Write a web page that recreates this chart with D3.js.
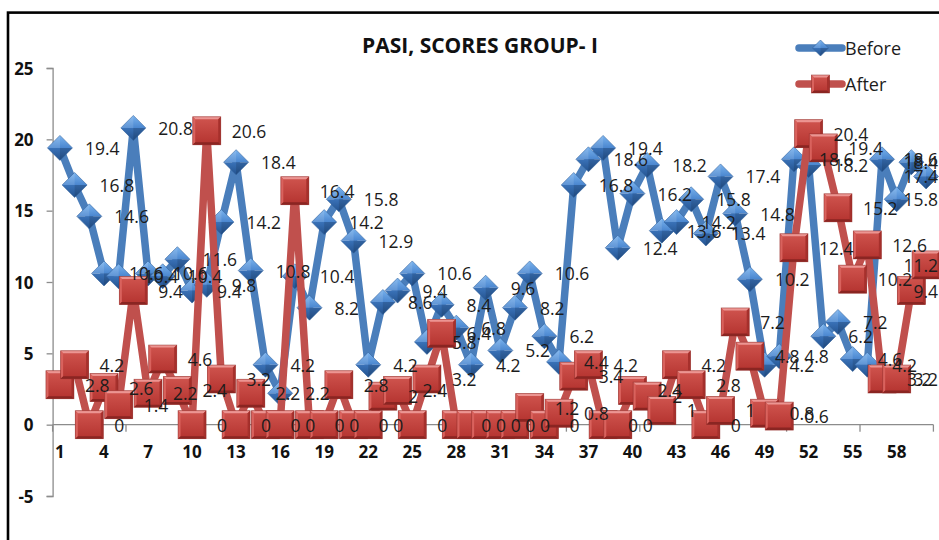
<!DOCTYPE html>
<html>
<head>
<meta charset="utf-8">
<script src="https://cdn.jsdelivr.net/npm/d3@7/dist/d3.min.js"></script>
<style>
  html, body { margin: 0; padding: 0; background: #fff; }
  svg { display: block; }
</style>
</head>
<body>
<svg id="chart" width="939" height="540"></svg>
<script>
// PASI scores per patient, before and after treatment (Group I)
const categories = [1,2,3,4,5,6,7,8,9,10,11,12,13,14,15,16,17,18,19,20,
  21,22,23,24,25,26,27,28,29,30,31,32,33,34,35,36,37,38,39,40,
  41,42,43,44,45,46,47,48,49,50,51,52,53,54,55,56,57,58,59,60];

const before = [19.4,16.8,14.6,10.6,10.4,20.8,10.6,10.4,11.6,9.4,
  9.8,14.2,18.4,10.8,4.2,2.2,10.4,8.2,14.2,15.8,
  12.9,4.2,8.6,9.4,10.6,5.8,8.4,6.8,4.2,9.6,
  5.2,8.2,10.6,6.2,4.4,16.8,18.6,19.4,12.4,16.2,
  18.2,13.6,14.2,15.8,13.4,17.4,14.8,10.2,4.2,4.8,
  18.6,18.2,6.2,7.2,4.6,4.2,18.6,15.8,18.4,17.4];

const after = [2.8,4.2,0,2.6,1.4,9.4,2.2,4.6,2.4,0,
  20.6,3.2,0,2.2,0,0,16.4,0,0,2.8,
  0,0,2,2.4,0,3.2,6.4,0,0,0,
  0,0,1.2,0,0.8,3.4,4.2,0,0,2.4,
  2,1,4.2,2.8,0,1,7.2,4.8,0.8,0.6,
  12.4,20.4,19.4,15.2,10.2,12.6,3.2,3.2,9.4,11.2];

const xTickLabels = [1,4,7,10,13,16,19,22,25,28,31,34,37,40,43,46,49,52,55,58];
const yTicks = [-5,0,5,10,15,20,25];
const seriesNames = ["Before", "After"];

const W = 939, H = 540;
const svg = d3.select("#chart");
const FONT = "'Open Sans', 'Noto Sans', sans-serif";

const x = d3.scalePoint().domain(categories).range([52.6, 933.4]).padding(0.5);
const y = d3.scaleLinear().domain([-5, 25]).range([496, 68]);
const step = x.step();

// ---------- gradients for the bevelled markers ----------
const defs = svg.append("defs");
function lin(id, stops, x2 = 0, y2 = 1) {
  const g = defs.append("linearGradient").attr("id", id)
    .attr("x1", 0).attr("y1", 0).attr("x2", x2).attr("y2", y2);
  stops.forEach(([o, c]) => g.append("stop").attr("offset", o).attr("stop-color", c));
}
lin("redFace", [[0, "#d0554f"], [1, "#b4332f"]]);
lin("blueTop", [[0, "#7ab3ee"], [1, "#4a86cf"]]);
lin("blueBot", [[0, "#3a72b8"], [1, "#24538f"]]);

// ---------- chart frame ----------
svg.append("rect").attr("x", 0).attr("y", 0).attr("width", W).attr("height", H).attr("fill", "#fff");
svg.append("rect")
  .attr("x", 8).attr("y", 12.6).attr("width", 1200).attr("height", 1200)
  .attr("fill", "none").attr("stroke", "#000").attr("stroke-width", 2.6);

// ---------- title ----------
svg.append("text")
  .attr("x", 480).attr("y", 53)
  .attr("text-anchor", "middle")
  .attr("font-family", FONT).attr("font-weight", 700).attr("font-size", 21)
  .attr("fill", "#111")
  .text("PASI, SCORES GROUP- I");

// ---------- axes ----------
const axisColor = "#8c8c8c";
const yAxis = svg.append("g").attr("transform", "translate(52.6,0)")
  .call(d3.axisLeft(y).tickValues(yTicks).tickSize(6).tickFormat(d => String(d)));
yAxis.select(".domain").attr("stroke", axisColor).attr("stroke-width", 1.3);
yAxis.selectAll(".tick line").attr("stroke", axisColor).attr("stroke-width", 1.3);
yAxis.selectAll(".tick text")
  .attr("x", -19).attr("dy", "0.36em")
  .attr("font-family", FONT).attr("font-weight", 700).attr("font-size", 17).attr("fill", "#111");

// category axis crossing at zero, ticks every fifth boundary
const boundaries = categories.filter((c, i) => i % 5 === 0).map(c => x(c) - step / 2)
  .concat([x(categories[categories.length - 1]) + step / 2]);
const xAxisG = svg.append("g");
xAxisG.append("line")
  .attr("x1", x.range()[0]).attr("x2", x.range()[1])
  .attr("y1", y(0)).attr("y2", y(0))
  .attr("stroke", axisColor).attr("stroke-width", 1.3);
xAxisG.selectAll("line.tk").data(boundaries).join("line").attr("class", "tk")
  .attr("x1", d => d).attr("x2", d => d)
  .attr("y1", y(0)).attr("y2", y(0) + 7)
  .attr("stroke", axisColor).attr("stroke-width", 1.3);

// ---------- series ----------
const line = d3.line().x((d, i) => x(categories[i])).y(d => y(d));

function diamond(g, cx, cy, r) {
  const p = (pts) => pts.map(q => q.join(",")).join(" ");
  g.append("polygon").attr("points", p([[cx - r, cy], [cx, cy - r], [cx + r, cy]])).attr("fill", "url(#blueTop)");
  g.append("polygon").attr("points", p([[cx - r, cy], [cx + r, cy], [cx, cy + r]])).attr("fill", "url(#blueBot)");
  g.append("polygon").attr("points", p([[cx - r, cy], [cx, cy - r], [cx, cy]])).attr("fill", "#ffffff").attr("opacity", 0.12);
  g.append("polygon").attr("points", p([[cx, cy], [cx + r, cy], [cx, cy + r]])).attr("fill", "#000").attr("opacity", 0.12);
  g.append("polygon").attr("points", p([[cx - r, cy], [cx, cy - r], [cx + r, cy], [cx, cy + r]]))
    .attr("fill", "none").attr("stroke", "#2f5f9a").attr("stroke-width", 0.8).attr("opacity", 0.7);
}

function square(g, cx, cy, h) {
  const b = Math.max(2.5, h * 0.16);
  const p = (pts) => pts.map(q => q.join(",")).join(" ");
  const L = cx - h, R = cx + h, T = cy - h, B = cy + h;
  g.append("rect").attr("x", L).attr("y", T).attr("width", 2 * h).attr("height", 2 * h).attr("fill", "url(#redFace)");
  g.append("polygon").attr("points", p([[L, T], [R, T], [R - b, T + b], [L + b, T + b]])).attr("fill", "#ec9592");
  g.append("polygon").attr("points", p([[L, T], [L + b, T + b], [L + b, B - b], [L, B]])).attr("fill", "#d9625d");
  g.append("polygon").attr("points", p([[R, T], [R, B], [R - b, B - b], [R - b, T + b]])).attr("fill", "#a6302c");
  g.append("polygon").attr("points", p([[L, B], [L + b, B - b], [R - b, B - b], [R, B]])).attr("fill", "#8a2522");
  g.append("rect").attr("x", L).attr("y", T).attr("width", 2 * h).attr("height", 2 * h)
    .attr("fill", "none").attr("stroke", "#8c2a27").attr("stroke-width", 0.8).attr("opacity", 0.6);
}

const blueCol = "#4a7ebb", redCol = "#c0504d";

// Before series
const gB = svg.append("g");
gB.append("path").attr("d", line(before)).attr("fill", "none")
  .attr("stroke", blueCol).attr("stroke-width", 7.5)
  .attr("stroke-linejoin", "round").attr("stroke-linecap", "round");
before.forEach((v, i) => diamond(gB, x(categories[i]), y(v), 12.5));

// After series
const gA = svg.append("g");
gA.append("path").attr("d", line(after)).attr("fill", "none")
  .attr("stroke", redCol).attr("stroke-width", 7.5)
  .attr("stroke-linejoin", "round").attr("stroke-linecap", "round");
after.forEach((v, i) => square(gA, x(categories[i]), y(v), 14));

// ---------- data labels (right of each point, kept inside the chart area) ----------
const gL = svg.append("g")
  .attr("font-family", FONT).attr("font-size", 17.5).attr("fill", "#1c1c1c");
[before, after].forEach(vals => {
  vals.forEach((v, i) => {
    const t = gL.append("text")
      .attr("x", x(categories[i]) + 25)
      .attr("y", y(v) + 7)
      .text(String(v));
    const w = t.node().getComputedTextLength();
    if (x(categories[i]) + 25 + w > 938) t.attr("x", 938 - w);
  });
});

// ---------- x tick labels ----------
svg.append("g").selectAll("text").data(xTickLabels).join("text")
  .attr("x", d => x(d)).attr("y", 458)
  .attr("text-anchor", "middle")
  .attr("font-family", FONT).attr("font-weight", 700).attr("font-size", 17).attr("fill", "#111")
  .text(d => d);

// ---------- legend ----------
const leg = svg.append("g");
seriesNames.forEach((name, k) => {
  const ly = 48 + k * 36;
  leg.append("line").attr("x1", 799).attr("x2", 842).attr("y1", ly).attr("y2", ly)
    .attr("stroke", k === 0 ? blueCol : redCol).attr("stroke-width", 7.5).attr("stroke-linecap", "round");
  if (k === 0) diamond(leg, 820.5, ly, 8); else square(leg, 820.5, ly, 9);
  leg.append("text").attr("x", 845).attr("y", ly + 7)
    .attr("font-family", FONT).attr("font-size", 18).attr("fill", "#1c1c1c").text(name);
});
</script>
</body>
</html>
